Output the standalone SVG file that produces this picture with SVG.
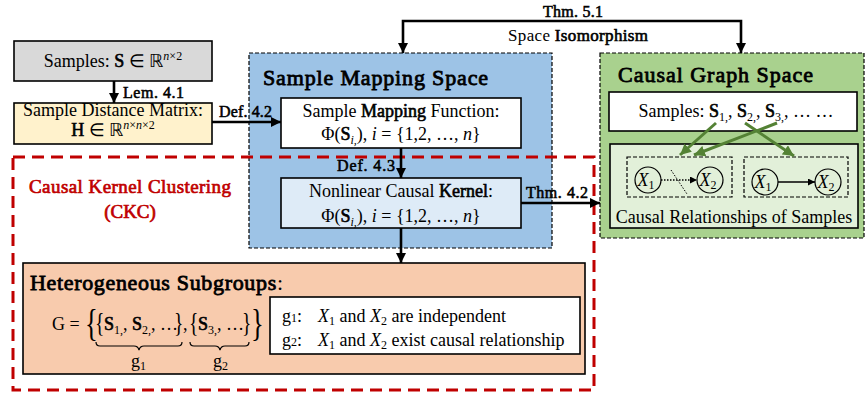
<svg xmlns="http://www.w3.org/2000/svg" width="865" height="395" viewBox="0 0 865 395">
<style>
text{font-family:"Liberation Serif","Times New Roman",serif;fill:#000}
.t{font-size:18px}
.b{stroke:#000;stroke-width:0.6}
.bt{stroke:#000;stroke-width:0.8}
.i{font-style:italic}
.lab{font-size:16px;stroke:#000;stroke-width:0.55}
.box{stroke:#000;stroke-width:1.6}
.dash{stroke:#000;stroke-width:1.2;stroke-dasharray:4 2}
.conn{stroke:#000;stroke-width:2.6;fill:none}
.g{stroke:#548235;stroke-width:3;fill:none}
.red{fill:none;stroke:#c00000;stroke-width:3;stroke-dasharray:12 7}
.redt{fill:#c00000;stroke:#c00000;stroke-width:0.7;font-size:19px}
.sub{font-size:12px}
</style>
<defs>
<marker id="arr" viewBox="0 0 10 10" refX="10" refY="5" markerWidth="10" markerHeight="10" markerUnits="userSpaceOnUse" orient="auto-start-reverse"><path d="M0,0 L10,5 L0,10 z" fill="#000"/></marker>
<marker id="garr" viewBox="0 0 10 10" refX="10" refY="5" markerWidth="11" markerHeight="11" markerUnits="userSpaceOnUse" orient="auto"><path d="M0,0 L10,5 L0,10 z" fill="#548235"/></marker>
<marker id="sarr" viewBox="0 0 10 10" refX="10" refY="5" markerWidth="7" markerHeight="7" markerUnits="userSpaceOnUse" orient="auto"><path d="M0,0 L10,5 L0,10 z" fill="#000"/></marker>
</defs>
<rect width="865" height="395" fill="#fff"/>

<g id="sample-mapping-space">
<rect x="249" y="53" width="303" height="195" fill="#9dc3e6" class="dash"/>
<text x="263" y="85" font-size="22" class="bt" textLength="225" lengthAdjust="spacing">Sample Mapping Space</text>
</g>

<g id="causal-graph-space">
<rect x="600" y="53" width="264" height="185" fill="#a9d18e" class="dash"/>
<text x="618" y="82" font-size="22" class="bt" textLength="195" lengthAdjust="spacing">Causal Graph Space</text>
</g>

<g id="ckc">
<rect x="13" y="157" width="581" height="233" class="red"/>
<text x="29" y="193" class="redt" textLength="202" lengthAdjust="spacing">Causal Kernel Clustering</text>
<text x="130" y="218" class="redt" text-anchor="middle">(CKC)</text>
</g>

<g id="samples">
<rect x="14" y="41" width="198" height="40" fill="#d9d9d9" class="box"/>
<text x="113" y="67" class="t" text-anchor="middle">Samples: <tspan class="b">S</tspan> ∈ ℝ<tspan class="sub i" dy="-7">n</tspan><tspan class="sub" dy="0">×2</tspan></text>
</g>

<g id="distance-matrix">
<rect x="14" y="103" width="198" height="41" fill="#fff2cc" class="box"/>
<text x="113" y="116" class="t" text-anchor="middle">Sample Distance Matrix:</text>
<text x="113" y="136" class="t" text-anchor="middle"><tspan class="b">H</tspan> ∈ ℝ<tspan class="sub" dy="-7"><tspan class="i">n</tspan>×<tspan class="i">n</tspan>×2</tspan></text>
</g>

<g id="mapping-function">
<rect x="281" y="98" width="240" height="50" fill="#fff" class="box"/>
<text x="401" y="117" class="t" text-anchor="middle">Sample <tspan class="b">Mapping</tspan> Function:</text>
<text x="401" y="140" class="t" text-anchor="middle">Φ(<tspan class="b">S</tspan><tspan class="sub i" dy="4">i,</tspan><tspan dy="-4">), </tspan><tspan class="i">i</tspan> = {1,2, …, <tspan class="i">n</tspan>}</text>
</g>

<g id="causal-kernel">
<rect x="281" y="178" width="240" height="50" fill="#deebf7" class="box"/>
<text x="401" y="197" class="t" text-anchor="middle">Nonlinear Causal <tspan class="b">Kernel</tspan>:</text>
<text x="401" y="222" class="t" text-anchor="middle">Φ(<tspan class="b">S</tspan><tspan class="sub i" dy="4">i,</tspan><tspan dy="-4">), </tspan><tspan class="i">i</tspan> = {1,2, …, <tspan class="i">n</tspan>}</text>
</g>

<g id="graph-samples">
<rect x="609" y="92" width="248" height="39" fill="#fff" class="box"/>
<text x="736" y="117" class="t" text-anchor="middle">Samples: <tspan class="b">S</tspan><tspan class="sub" dy="4">1,</tspan><tspan dy="-4">, </tspan><tspan class="b">S</tspan><tspan class="sub" dy="4">2,</tspan><tspan dy="-4">, </tspan><tspan class="b">S</tspan><tspan class="sub" dy="4">3,</tspan><tspan dy="-4">, … …</tspan></text>
</g>

<g id="causal-relationships">
<rect x="610" y="144" width="248" height="84" fill="#e2f0d9" class="box"/>
<rect x="627" y="157" width="105" height="40" fill="none" class="dash"/>
<rect x="744" y="157" width="104" height="40" fill="none" class="dash"/>
<circle cx="648" cy="180" r="13" fill="none" stroke="#000" stroke-width="1.2"/>
<circle cx="710" cy="180" r="13" fill="none" stroke="#000" stroke-width="1.2"/>
<circle cx="765" cy="182" r="13" fill="none" stroke="#000" stroke-width="1.2"/>
<circle cx="828" cy="182" r="13" fill="none" stroke="#000" stroke-width="1.2"/>
<text x="646" y="186" class="t i" text-anchor="middle">X<tspan class="sub" font-style="normal" dy="3">1</tspan></text>
<text x="708" y="186" class="t i" text-anchor="middle">X<tspan class="sub" font-style="normal" dy="3">2</tspan></text>
<text x="763" y="188" class="t i" text-anchor="middle">X<tspan class="sub" font-style="normal" dy="3">1</tspan></text>
<text x="826" y="188" class="t i" text-anchor="middle">X<tspan class="sub" font-style="normal" dy="3">2</tspan></text>
<line x1="661" y1="180" x2="697" y2="180" stroke="#000" stroke-width="1.3" stroke-dasharray="1.5 1.5" marker-end="url(#sarr)"/>
<line x1="671" y1="170" x2="687" y2="194" stroke="#000" stroke-width="1" stroke-dasharray="1.5 1.5"/>
<line x1="778" y1="182" x2="815" y2="182" stroke="#000" stroke-width="1.3" marker-end="url(#sarr)"/>
<text x="734" y="223" class="t" text-anchor="middle">Causal Relationships of Samples</text>
</g>

<g id="heterogeneous-subgroups">
<rect x="23" y="263" width="562" height="111" fill="#f8cbad" class="box"/>
<text x="30" y="290" font-size="22" textLength="253" lengthAdjust="spacing"><tspan class="bt">Heterogeneous Subgroups</tspan>:</text>
<text x="52" y="330" class="t">G =</text>
<text x="85" y="336" font-size="38" transform="translate(85 336) scale(0.7 1) translate(-85 -336)">{</text>
<text x="95" y="332" font-size="28" transform="translate(95 332) scale(0.7 1) translate(-95 -332)">{</text>
<text x="104" y="330" class="t"><tspan class="b">S</tspan><tspan class="sub" dy="4">1,</tspan><tspan dy="-4">, </tspan><tspan class="b">S</tspan><tspan class="sub" dy="4">2,</tspan><tspan dy="-4">, …</tspan></text>
<text x="174" y="332" font-size="28" transform="translate(174 332) scale(0.7 1) translate(-174 -332)">}</text>
<text x="183" y="330" class="t">,</text>
<text x="189" y="332" font-size="28" transform="translate(189 332) scale(0.7 1) translate(-189 -332)">{</text>
<text x="198" y="330" class="t"><tspan class="b">S</tspan><tspan class="sub" dy="4">3,</tspan><tspan dy="-4">, …</tspan></text>
<text x="242" y="332" font-size="28" transform="translate(242 332) scale(0.7 1) translate(-242 -332)">}</text>
<text x="251" y="336" font-size="38" transform="translate(251 336) scale(0.7 1) translate(-251 -336)">}</text>
<path d="M96,342 Q96,346 100,346 L134,346 Q138,346 139,350 Q140,346 144,346 L178,346 Q182,346 182,342" fill="none" stroke="#000" stroke-width="1.2"/>
<path d="M190,342 Q190,346 194,346 L215,346 Q219,346 220,350 Q221,346 225,346 L245,346 Q249,346 249,342" fill="none" stroke="#000" stroke-width="1.2"/>
<text x="131" y="367" class="t">g<tspan class="sub" dy="3">1</tspan></text>
<text x="213" y="367" class="t">g<tspan class="sub" dy="3">2</tspan></text>
<rect x="270" y="297" width="310" height="57" fill="#fff" class="box"/>
<text x="282" y="322" class="t">g<tspan class="sub">1</tspan>:  <tspan x="318" class="i">X</tspan><tspan class="sub" dy="3">1</tspan><tspan dy="-3"> and </tspan><tspan class="i">X</tspan><tspan class="sub" dy="3">2</tspan><tspan dy="-3"> are independent</tspan></text>
<text x="282" y="346" class="t">g<tspan class="sub">2</tspan>:  <tspan x="318" class="i">X</tspan><tspan class="sub" dy="3">1</tspan><tspan dy="-3"> and </tspan><tspan class="i">X</tspan><tspan class="sub" dy="3">2</tspan><tspan dy="-3"> exist causal relationship</tspan></text>
</g>

<g id="connectors">
<line x1="114" y1="81" x2="114" y2="103" class="conn" marker-end="url(#arr)"/>
<text x="123" y="98" class="lab" textLength="61" lengthAdjust="spacing">Lem. 4.1</text>
<line x1="212" y1="122" x2="281" y2="122" class="conn" marker-end="url(#arr)"/>
<text x="219" y="117" class="lab" textLength="53" lengthAdjust="spacing">Def. 4.2</text>
<line x1="401" y1="148" x2="401" y2="178" class="conn" marker-end="url(#arr)"/>
<text x="337" y="171" class="lab" textLength="58" lengthAdjust="spacing">Def. 4.3</text>
<line x1="521" y1="203" x2="600" y2="203" class="conn" marker-end="url(#arr)"/>
<text x="526" y="198" class="lab" textLength="62" lengthAdjust="spacing">Thm. 4.2</text>
<line x1="401" y1="228" x2="401" y2="263" class="conn" marker-end="url(#arr)"/>
<path d="M403,53 L403,21 L741,21 L741,53" class="conn" marker-start="url(#arr)" marker-end="url(#arr)"/>
<text x="543" y="17" class="lab" textLength="60" lengthAdjust="spacing">Thm. 5.1</text>
<text x="508" y="41" font-size="17" textLength="140" lengthAdjust="spacing">Space <tspan class="b">Isomorphism</tspan></text>
<line x1="716" y1="123" x2="680" y2="155" class="g" marker-end="url(#garr)"/>
<line x1="777" y1="123" x2="694" y2="155" class="g" marker-end="url(#garr)"/>
<line x1="745" y1="123" x2="794" y2="156" class="g" marker-end="url(#garr)"/>
</g>
</svg>
